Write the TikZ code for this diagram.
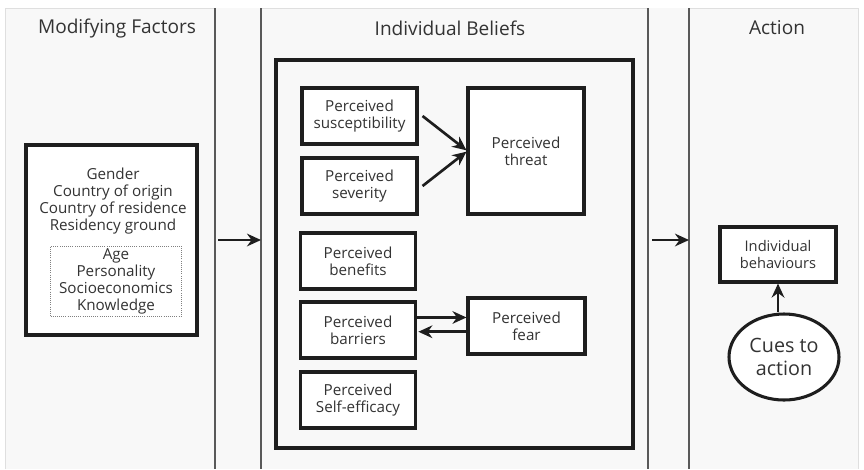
\documentclass[tikz,border=0pt]{standalone}
\usepackage{fontspec}
\setmainfont{Open Sans}
\usetikzlibrary{arrows.meta,shapes.geometric}
\definecolor{panel}{HTML}{F8F8F8}
\definecolor{ink}{HTML}{1E1E1E}
\definecolor{txt}{HTML}{333333}
\begin{document}
\begin{tikzpicture}[x=0.75pt,y=-0.75pt,
  box/.style={draw=ink,line width=2.3pt,fill=white,align=center,text=txt,font=\fontsize{11.4}{12.75}\selectfont,inner sep=0pt},
  title/.style={text=txt,font=\fontsize{14.3}{16}\selectfont},
  arr/.style={draw=ink,line width=2pt,-{Stealth[length=10.5pt,width=9.5pt]}},
  sep/.style={draw=gray!70!black,line width=1.2pt}]
\useasboundingbox (0,0) rectangle (864,469);
\fill[white] (0,0) rectangle (864,469);
% panels
\fill[panel] (5,8) rectangle (215,469);
\fill[panel] (215,8) rectangle (261,469);
\fill[panel] (261,8) rectangle (648,469);
\fill[panel] (648,8) rectangle (689,469);
\fill[panel] (689,8) rectangle (858,469);
\draw[gray!25,line width=0.6pt] (5,469) -- (5,8) -- (215,8);
\draw[gray!25,line width=0.6pt] (261,8) -- (648,8);
\draw[gray!25,line width=0.6pt] (689,8) -- (858,8) -- (858,469);
\draw[sep] (215,8) -- (215,469);
\draw[sep] (261,8) -- (261,469);
\draw[sep] (648,8) -- (648,469);
\draw[sep] (689,8) -- (689,469);
\coordinate (sepA) at (261,240);
\coordinate (sepAo) at (218,240);
\coordinate (sepB) at (689,240);
\coordinate (sepBo) at (652,240);
% titles
\node[title] (t1) at (117,28) {Modifying Factors};
\node[title] (t2) at (450,28) {Individual Beliefs};
\node[title] (t3) at (777,28) {Action};
% modifying factors
\node[box,minimum width=128.25pt,minimum height=142.5pt] (mod) at (111.5,240) {};
\node[text=txt,align=center,font=\fontsize{11.4}{12.75}\selectfont] (modtxt) at (113,201)
  {Gender\\Country of origin\\Country of residence\\Residency ground};
\node[draw=gray,densely dotted,line width=0.6pt,minimum width=98.25pt,minimum height=52.5pt,
  align=center,text=txt,font=\fontsize{11.4}{12.75}\selectfont,inner sep=0pt] (inner) at (116,281)
  {Age\\Personality\\Socioeconomics\\Knowledge};
% beliefs
\node[draw=ink,line width=2.3pt,minimum width=267.75pt,minimum height=291pt] (big) at (454.5,254) {};
\node[box,minimum width=86.25pt,minimum height=42pt] (sus) at (359.5,116) {Perceived\\susceptibility};
\node[box,minimum width=86.25pt,minimum height=42pt] (sev) at (359.5,186) {Perceived\\severity};
\node[box,minimum width=87pt,minimum height=94.5pt] (thr) at (526,151) {Perceived\\threat};
\node[box,minimum width=86.25pt,minimum height=42pt] (ben) at (358,261) {Perceived\\benefits};
\node[box,minimum width=86.25pt,minimum height=42pt] (bar) at (358,330) {Perceived\\barriers};
\node[box,minimum width=87.75pt,minimum height=42pt] (fear) at (526.5,326) {Perceived\\fear};
\node[box,minimum width=86.25pt,minimum height=42pt] (self) at (358,400) {Perceived\\Self-efficacy};
% action
\node[box,minimum width=87pt,minimum height=41.25pt,font=\fontsize{11}{12.75}\selectfont] (beh) at (778,254.5) {Individual\\behaviours};
\node[box,ellipse,minimum width=82.5pt,minimum height=64.5pt,font=\fontsize{14.8}{17}\selectfont] (cue) at (784,357) {Cues to\\action};
% connectors
\draw[arr] (sepAo) -- (sepA);
\draw[arr] (sepBo) -- (sepB);
\draw[arr] ([xshift=3pt]sus.east) -- ([yshift=0.5pt]thr.west);
\draw[arr] ([xshift=3pt]sev.east) -- ([yshift=-0.5pt]thr.west);
\coordinate (b1) at ([yshift=9.4pt]bar.east);
\coordinate (b2) at ([xshift=1pt,yshift=-1.3pt]bar.east);
\draw[arr] (b1) -- (b1 -| fear.west);
\draw[arr] (b2 -| fear.west) -- (b2);
\coordinate (cuex) at (778,0);
\draw[arr] (cue.north -| cuex) -- (beh.south -| cuex);
\end{tikzpicture}
\end{document}
